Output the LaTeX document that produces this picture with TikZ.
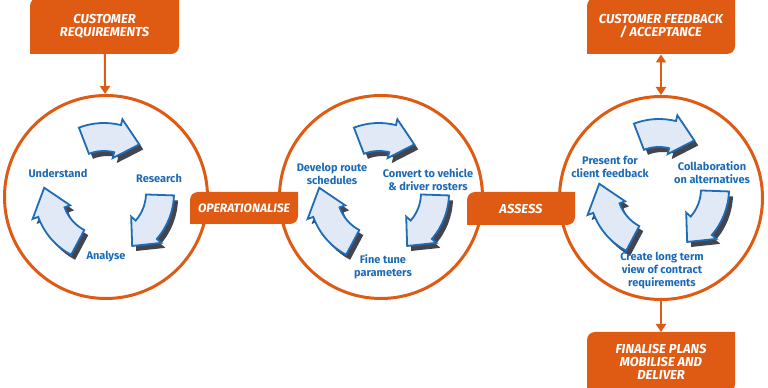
\documentclass[tikz,border=0pt]{standalone}
\usepackage{fontspec}
\setmainfont{Fira Sans}
\usetikzlibrary{arrows.meta}
\definecolor{orng}{HTML}{DF5A12}
\definecolor{abl}{HTML}{1C6CB6}
\definecolor{afill}{HTML}{E2E9F6}
\definecolor{ashadow}{HTML}{44444F}
\definecolor{tblue}{HTML}{1C6AB5}
\newcommand\obox[4]{\fill[orng] (#1,#2) -- (#1,{#4-8}) arc[start angle=180,end angle=90,radius=8] -- (#3,#4) -- (#3,{#2+8}) arc[start angle=0,end angle=-90,radius=8] -- cycle;}
% three curved arrows round a centre: tail angle / head base angle / tip angle
\newcommand\cyclearrows[2]{%
  \begin{scope}[shift={(#1,#2)}]
    \foreach \ta/\tb/\tc in {111/76/54,-2/-41/-62,-118/-160/-185}{
      \fill[ashadow,shift={(4,-5)}] (\ta:70) arc[start angle=\ta,end angle=\tb,radius=70] -- (\tb:76) -- (\tc:60) -- (\tb:36) -- (\tb:42) arc[start angle=\tb,end angle=\ta,radius=42] -- cycle;
      \filldraw[arrowshape] (\ta:70) arc[start angle=\ta,end angle=\tb,radius=70] -- (\tb:76) -- (\tc:60) -- (\tb:36) -- (\tb:42) arc[start angle=\tb,end angle=\ta,radius=42] -- cycle;
    }
  \end{scope}}
\begin{document}
\begin{tikzpicture}[x=1pt,y=1pt,
  ring/.style={circle,draw=orng,line width=3pt,minimum size=203pt,inner sep=0pt},
  arrowshape/.style={fill=afill,draw=abl,line width=1.8pt,line join=miter},
  lbl/.style={text=tblue,font=\fontsize{11}{13}\selectfont\bfseries,align=center,inner sep=0pt},
  otext/.style={text=white,font=\fontsize{13}{13}\selectfont\bfseries\itshape,align=center,inner sep=0pt,outer sep=0pt},
  conn/.style={draw=orng,line width=2pt},
  >={Triangle[width=10pt,length=8pt]}]
\clip (0,0) rectangle (768,388);
% circles
\node[ring] (c1) at (106,191) {};
\node[ring] (c2) at (381,191) {};
\node[ring] (c3) at (661,190) {};
% cycle arrows
\cyclearrows{104}{195}
\cyclearrows{379}{195}
\cyclearrows{659}{199}
% orange boxes
\obox{30}{334}{179}{390}
\obox{587}{334}{735}{390}
\obox{587}{-4}{735}{56}
\obox{190}{164}{298}{196}
\obox{467}{163}{575}{196}
\node[otext,minimum width=149pt,minimum height=56pt] (cr) at (104.5,362) {CUSTOMER\\REQUIREMENTS};
\node[otext,minimum width=148pt,minimum height=56pt] (cf) at (661,361.5) {CUSTOMER FEEDBACK\\/ ACCEPTANCE};
\node[otext,minimum width=148pt,minimum height=60pt] (fp) at (661,26) {FINALISE PLANS\\MOBILISE AND\\DELIVER};
\node[otext,minimum width=108pt,minimum height=32pt,font=\fontsize{12.2}{13}\selectfont\bfseries\itshape] (op) at (244,180) {OPERATIONALISE};
\node[otext,minimum width=108pt,minimum height=33pt] (as) at (521,179.5) {ASSESS};
% connectors
\draw[conn,->] (cr) -- (c1);
\draw[conn,<->] (cf) -- (c3);
\draw[conn,->] (c3) -- (fp);
% labels
\node[lbl] (l1) at (58,215) {Understand};
\node[lbl] (l2) at (159,210) {Research};
\node[lbl] (l3) at (106,131) {Analyse};
\node[lbl] (l4) at (332,214.5) {Develop route\\schedules};
\node[lbl] (l5) at (428,208.5) {Convert to vehicle\\\& driver rosters};
\node[lbl] (l6) at (383,121) {Fine tune\\parameters};
\node[lbl] (l7) at (610,221) {Present for\\client feedback};
\node[lbl] (l8) at (712,215.5) {Collaboration\\on alternatives};
\node[lbl] (l9) at (662,117) {Create long term\\view of contract\\requirements};
\end{tikzpicture}
\end{document}
